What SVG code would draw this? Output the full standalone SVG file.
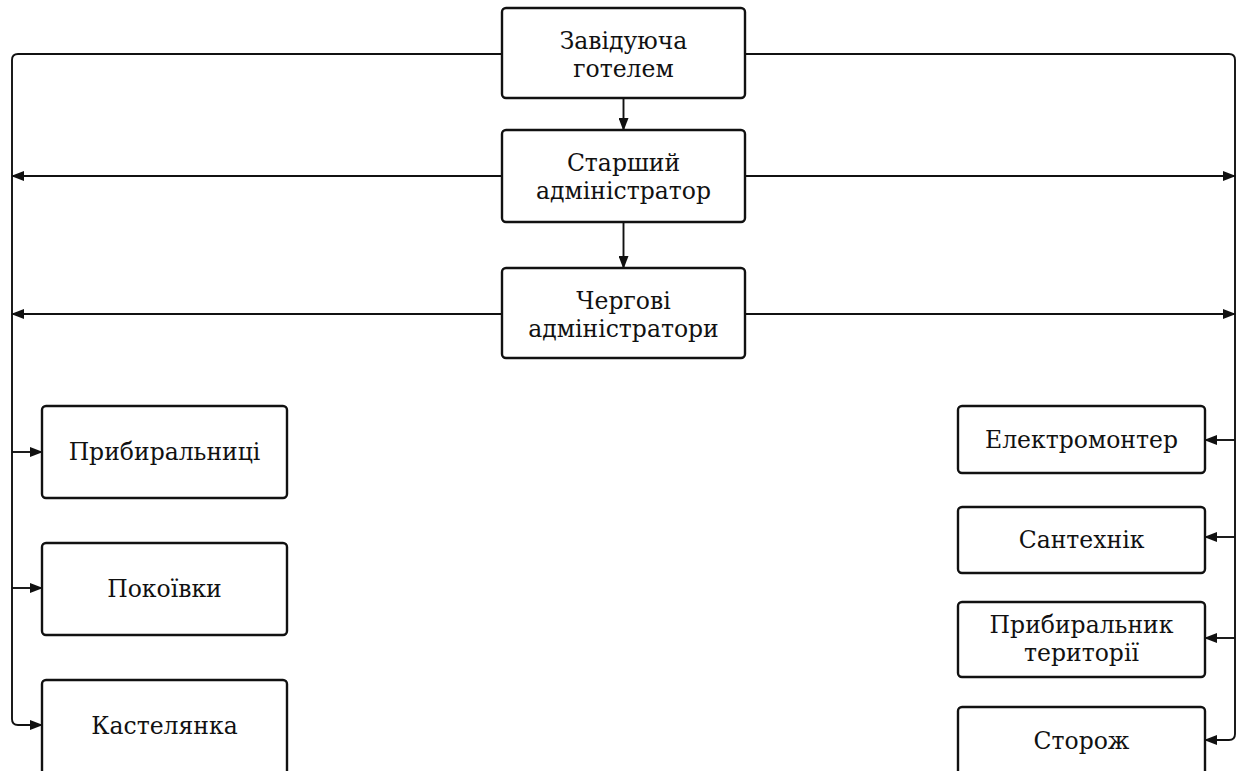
<svg xmlns="http://www.w3.org/2000/svg" width="1243" height="771" viewBox="0 0 1243 771">
<style>
.box{fill:#fff;stroke:#111;stroke-width:2.4}
.t{font-family:"DejaVu Serif","Liberation Serif",serif;font-size:23.5px;fill:#111;text-anchor:middle}
.c{fill:none;stroke:#111;stroke-width:1.9}
</style>
<defs>
<marker id="a" markerWidth="13" markerHeight="10" refX="12" refY="5" orient="auto" markerUnits="userSpaceOnUse">
<path d="M0,0 L13,5 L0,10 Z" fill="#111"/>
</marker>
</defs>
<rect width="1243" height="771" fill="#fff"/>
<g id="connectors">
<path class="c" d="M502,54 H18 Q12,54 12,60 V719 Q12,725 18,725 H42" marker-end="url(#a)"/>
<path class="c" d="M12,452 H42" marker-end="url(#a)"/>
<path class="c" d="M12,588 H42" marker-end="url(#a)"/>
<path class="c" d="M745,54 H1229 Q1235,54 1235,60 V734 Q1235,740 1229,740 H1205" marker-end="url(#a)"/>
<path class="c" d="M1235,440 H1205" marker-end="url(#a)"/>
<path class="c" d="M1235,537 H1205" marker-end="url(#a)"/>
<path class="c" d="M1235,638 H1205" marker-end="url(#a)"/>
<path class="c" d="M502,176 H12" marker-end="url(#a)"/>
<path class="c" d="M745,176 H1235" marker-end="url(#a)"/>
<path class="c" d="M502,314 H12" marker-end="url(#a)"/>
<path class="c" d="M745,314 H1235" marker-end="url(#a)"/>
<path class="c" d="M623.5,98 V130" marker-end="url(#a)"/>
<path class="c" d="M623.5,222 V268" marker-end="url(#a)"/>
</g>
<g id="n1"><rect class="box" x="502" y="8" width="243" height="90" rx="4"/><text class="t" x="623.5" y="49">Завідуюча</text><text class="t" x="623.5" y="77">готелем</text></g>
<g id="n2"><rect class="box" x="502" y="130" width="243" height="92" rx="4"/><text class="t" x="623.5" y="171">Старший</text><text class="t" x="623.5" y="199">адміністратор</text></g>
<g id="n3"><rect class="box" x="502" y="268" width="243" height="90" rx="4"/><text class="t" x="623.5" y="309">Чергові</text><text class="t" x="623.5" y="337">адміністратори</text></g>
<g id="n4"><rect class="box" x="42" y="406" width="245" height="92" rx="4"/><text class="t" x="164.5" y="460">Прибиральниці</text></g>
<g id="n5"><rect class="box" x="42" y="543" width="245" height="92" rx="4"/><text class="t" x="164.5" y="597">Покоївки</text></g>
<g id="n6"><rect class="box" x="42" y="680" width="245" height="100" rx="4"/><text class="t" x="164.5" y="734">Кастелянка</text></g>
<g id="n7"><rect class="box" x="958" y="406" width="247" height="67" rx="4"/><text class="t" x="1081.5" y="448">Електромонтер</text></g>
<g id="n8"><rect class="box" x="958" y="507" width="247" height="66" rx="4"/><text class="t" x="1081.5" y="548">Сантехнік</text></g>
<g id="n9"><rect class="box" x="958" y="602" width="247" height="75" rx="4"/><text class="t" x="1081.5" y="633">Прибиральник</text><text class="t" x="1081.5" y="661">території</text></g>
<g id="n10"><rect class="box" x="958" y="707" width="247" height="80" rx="4"/><text class="t" x="1081.5" y="749">Сторож</text></g>
</svg>
